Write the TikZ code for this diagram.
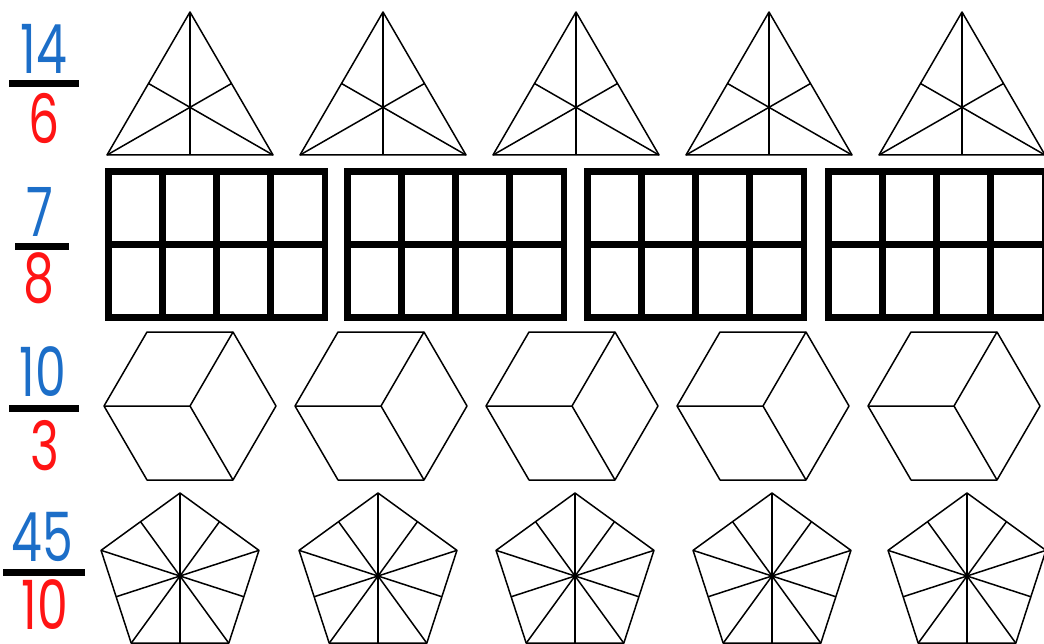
\documentclass[tikz,border=0pt]{standalone}
\usepackage{fontspec}
\setmainfont{Poppins}
\usepackage{tikz}
\usetikzlibrary{calc}

\definecolor{bleuNum}{RGB}{28,110,200}
\definecolor{rougeDen}{RGB}{255,20,20}

% chiffres un peu serrés
\newcommand{\etroit}[1]{\scalebox{0.72}[1]{#1}}

% triangle et ses médianes (#1 = abscisse du sommet)
\newcommand{\triangleMed}[1]{%
  \draw[trait] (#1,12) -- (#1-83,155) -- (#1+83,155) -- cycle;
  \draw[trait] (#1,12) -- (#1,155);
  \draw[trait] (#1-83,155) -- (#1+41.5,83.5);
  \draw[trait] (#1+83,155) -- (#1-41.5,83.5);
}
% rectangle 2x4 (#1 = bord gauche)
\newcommand{\grilleRect}[1]{%
  \draw[epais] (#1+3.25,171.5) rectangle (#1+219.75,317.5);
  \draw[epais] (#1+3.25,244.5) -- (#1+219.75,244.5);
  \draw[epais] (#1+57.4,171.5) -- (#1+57.4,317.5);
  \draw[epais] (#1+111.5,171.5) -- (#1+111.5,317.5);
  \draw[epais] (#1+165.6,171.5) -- (#1+165.6,317.5);
}
% hexagone coupé en trois losanges (#1 = centre)
\newcommand{\cubeHex}[1]{%
  \draw[trait] (#1-86,406) -- (#1-43,332) -- (#1+43,332) -- (#1+86,406)
    -- (#1+43,480) -- (#1-43,480) -- cycle;
  \draw[trait] (#1-86,406) -- (#1,406) -- (#1+43,332);
  \draw[trait] (#1,406) -- (#1+43,480);
}
% pentagone et ses dix rayons (#1 = centre)
\newcommand{\pentaRay}[1]{%
  \draw[trait] (#1,576) +(-90:83) -- +(-18:83) -- +(54:83) -- +(126:83)
    -- +(198:83) -- cycle;
  \foreach \a in {-90,-18,54,126,198} \draw[trait] (#1,576) -- +(\a:83);
  \foreach \a in {-54,18,90,162,234} \draw[trait] (#1,576) -- +(\a:67.15);
}

\begin{document}
\begin{tikzpicture}[x=1pt, y=-1pt,
    trait/.style={line width=1.5pt, line join=round},
    epais/.style={line width=6.5pt},
    num/.style={text=bleuNum, inner sep=0pt, font=\fontsize{68}{68}\selectfont},
    den/.style={text=rougeDen, inner sep=0pt, font=\fontsize{68}{68}\selectfont},
    barre/.style={line width=7pt}]
	\useasboundingbox (0,0) rectangle (1044,644);

	% Fractions à gauche
	\node[num] (num1) at (44,49) {\etroit{14}};
	\draw[barre] (9,84) -- (79,84);
	\node[den] (den1) at (44,118) {\etroit{6}};

	\node[num] (num2) at (40,212) {\etroit{7}};
	\draw[barre] (15,246.5) -- (69,246.5);
	\node[den] (den2) at (39,278) {\etroit{8}};

	\node[num] (num3) at (43,372) {\etroit{10}};
	\draw[barre] (9,408) -- (79,408);
	\node[den] (den3) at (45,446) {\etroit{3}};

	\node[num] (num4) at (42,537) {\etroit{45}};
	\draw[barre] (3,572) -- (85,572);
	\node[den] (den4) at (45,605) {\etroit{10}};

	% Triangles
	\triangleMed{190}
	\triangleMed{383}
	\triangleMed{576}
	\triangleMed{769}
	\triangleMed{962}

	% Rectangles
	\grilleRect{105}
	\grilleRect{344}
	\grilleRect{584}
	\grilleRect{825}

	% Hexagones
	\cubeHex{190}
	\cubeHex{381}
	\cubeHex{572}
	\cubeHex{763}
	\cubeHex{954}

	% Pentagones
	\pentaRay{180}
	\pentaRay{378}
	\pentaRay{575}
	\pentaRay{772}
	\pentaRay{967}
\end{tikzpicture}
\end{document}
